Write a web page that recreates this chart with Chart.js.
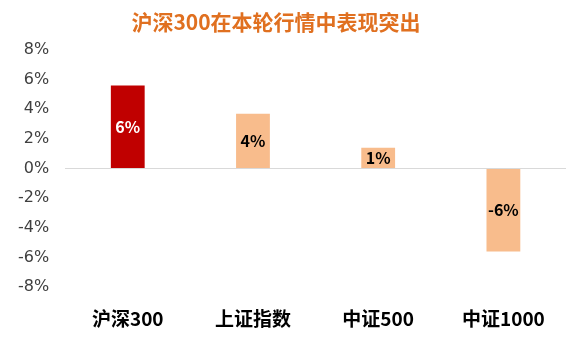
<!DOCTYPE html>
<html>
<head>
<meta charset="utf-8">
<script src="https://cdn.jsdelivr.net/npm/chart.js@4/dist/chart.umd.min.js"></script>
<style>
    html, body { margin: 0; padding: 0; background: #ffffff; }
    #wrap { width: 572px; height: 350px; }
</style>
</head>
<body>
<div id="wrap"><canvas id="chart"></canvas></div>
<script>
// Chart data
const categories = ['沪深300', '上证指数', '中证500', '中证1000'];
const returns = [5.6, 3.7, 1.4, -5.6];
const valueLabels = ['6%', '4%', '1%', '-6%'];
const barColors = ['#C00000', '#F8BC8C', '#F8BC8C', '#F8BC8C'];
const labelColors = ['#FFFFFF', '#000000', '#000000', '#000000'];
const chartTitle = '沪深300在本轮行情中表现突出';

const cjkFont = "'Noto Sans CJK SC', 'Noto Sans', sans-serif";
const numFont = "'DejaVu Sans', 'Noto Sans', sans-serif";

// Title drawn a little left of centre, like the original
const titlePlugin = {
    id: 'titlePlugin',
    afterDraw(chart) {
        const ctx = chart.ctx;
        ctx.save();
        ctx.font = 'bold 21px ' + cjkFont;
        ctx.fillStyle = '#E07020';
        ctx.textAlign = 'center';
        ctx.textBaseline = 'middle';
        ctx.fillText(chartTitle, 276, 22);
        ctx.restore();
    }
};

// Value text in the middle of each bar
const barLabels = {
    id: 'barLabels',
    afterDatasetsDraw(chart) {
        const ctx = chart.ctx;
        const meta = chart.getDatasetMeta(0);
        ctx.save();
        ctx.font = 'bold 16px ' + cjkFont;
        ctx.textAlign = 'center';
        ctx.textBaseline = 'middle';
        meta.data.forEach((bar, i) => {
            ctx.fillStyle = labelColors[i];
            ctx.fillText(valueLabels[i], bar.x, (bar.y + bar.base) / 2);
        });
        ctx.restore();
    }
};

const ctx = document.getElementById('chart').getContext('2d');
new Chart(ctx, {
    type: 'bar',
    data: {
        labels: categories,
        datasets: [{
            data: returns,
            backgroundColor: barColors,
            borderWidth: 0,
            barPercentage: 0.27,
            categoryPercentage: 1.0
        }]
    },
    options: {
        responsive: true,
        maintainAspectRatio: false,
        animation: false,
        layout: {
            padding: { left: 2, right: 6, top: 50, bottom: 0 }
        },
        scales: {
            y: {
                min: -8,
                max: 8,
                ticks: {
                    stepSize: 2,
                    color: '#404040',
                    padding: 16,
                    font: { family: numFont, size: 16 },
                    callback: function(value) {
                        return value + '%';
                    }
                },
                grid: {
                    drawTicks: false,
                    color: function(context) {
                        return context.tick && context.tick.value === 0 ? '#D9D9D9' : 'rgba(0,0,0,0)';
                    }
                },
                border: { display: false }
            },
            x: {
                ticks: {
                    color: '#000000',
                    padding: 20,
                    font: { family: cjkFont, size: 19, weight: 'bold' }
                },
                grid: { display: false, drawTicks: false },
                border: { display: false }
            }
        },
        plugins: {
            legend: { display: false },
            tooltip: { enabled: false },
            title: { display: false }
        }
    },
    plugins: [barLabels, titlePlugin]
});
</script>
</body>
</html>
